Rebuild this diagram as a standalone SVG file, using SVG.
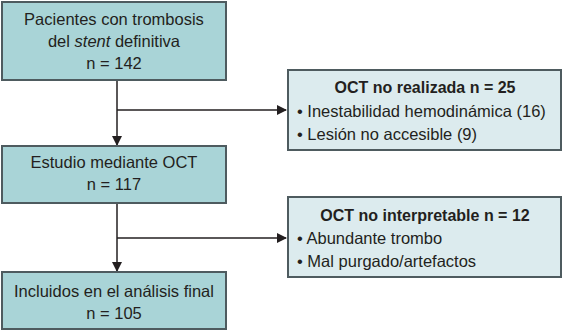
<svg xmlns="http://www.w3.org/2000/svg" width="563" height="332" viewBox="0 0 563 332">
<defs>
<style>
.main{fill:#a9d4d7;stroke:#4e5b5f;stroke-width:2}
.side{fill:#dcebee;stroke:#4e5b5f;stroke-width:2}
text{font-family:"Liberation Sans",Arial,sans-serif;font-size:16.5px;fill:#231f20}
.c{text-anchor:middle}
.b{font-weight:bold;font-size:16px}
.ln{stroke:#231f20;stroke-width:1.5;fill:none}
</style>
<marker id="ah" markerWidth="10" markerHeight="10" refX="9" refY="5" orient="auto" markerUnits="userSpaceOnUse">
<path d="M0,0 L10,5 L0,10 Z" fill="#231f20"/>
</marker>
</defs>
<rect width="563" height="332" fill="#ffffff"/>
<g id="connectors">
<path class="ln" d="M117,80 V145" marker-end="url(#ah)"/>
<path class="ln" d="M117,110 H286" marker-end="url(#ah)"/>
<path class="ln" d="M117,203 V271" marker-end="url(#ah)"/>
<path class="ln" d="M117,238 H286" marker-end="url(#ah)"/>
</g>
<g id="n1">
<rect class="main" x="2" y="2" width="224" height="78"/>
<text class="c" x="114" y="25">Pacientes con trombosis</text>
<text class="c" x="114" y="47">del <tspan font-style="italic">stent</tspan> definitiva</text>
<text class="c" x="114" y="69">n = 142</text>
</g>
<g id="n2">
<rect class="main" x="2" y="146" width="224" height="57"/>
<text class="c" x="114" y="168">Estudio mediante OCT</text>
<text class="c" x="114" y="190">n = 117</text>
</g>
<g id="n3">
<rect class="main" x="2" y="272" width="224" height="57"/>
<text class="c" x="114" y="297">Incluidos en el análisis final</text>
<text class="c" x="114" y="319">n = 105</text>
</g>
<g id="n4">
<rect class="side" x="288" y="70" width="273" height="80"/>
<text class="c b" x="425" y="93">OCT no realizada n = 25</text>
<text x="297" y="117">• Inestabilidad hemodinámica (16)</text>
<text x="297" y="140">• Lesión no accesible (9)</text>
</g>
<g id="n5">
<rect class="side" x="288" y="197" width="273" height="80"/>
<text class="c b" x="425" y="221">OCT no interpretable n = 12</text>
<text x="297" y="244">• Abundante trombo</text>
<text x="297" y="267">• Mal purgado/artefactos</text>
</g>
</svg>
